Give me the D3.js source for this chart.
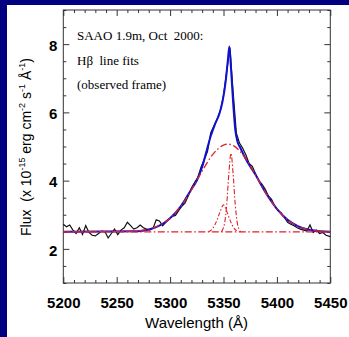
<!DOCTYPE html>
<html>
<head>
<meta charset="utf-8">
<script src="https://cdn.jsdelivr.net/npm/d3@7"></script>
<style>
  html, body { margin: 0; padding: 0; background: #000080; }
  svg { display: block; }
</style>
</head>
<body>
<div id="chart"></div>
<script>
// observed spectrum (wavelength in A, flux in 1e-15 erg/cm2/s/A)
var obsWave = [5200,5203,5206,5209,5212,5215,5218,5221,5224,5227,5230,5233,5236,5239,5242,5245,5248,5251,5254,5257,
  5260,5263,5266,5269,5272,5275,5278,5281,5284,5287,5290,5293,5296,5299,5302,5305,5308,5311,5314,5317,
  5320,5323,5326,5329,5332,5335,5338,5341,5344,5347,5350,5353,5356,5359,5362,5365,5368,5371,5374,5377,
  5380,5383,5386,5389,5392,5395,5398,5401,5404,5407,5410,5413,5416,5419,5422,5425,5428,5431,5434,5437,
  5440,5443,5446,5450];
var obsFlux = [2.72,2.65,2.70,2.55,2.45,2.62,2.42,2.68,2.48,2.40,2.38,2.45,2.52,2.50,2.32,2.45,2.58,2.42,2.55,2.62,
  2.78,2.68,2.58,2.62,2.70,2.62,2.58,2.55,2.60,2.85,2.82,2.68,2.78,2.88,2.95,2.98,3.12,3.25,3.35,3.55,
  3.78,3.95,4.10,4.40,4.62,4.85,5.40,5.60,5.80,6.05,6.50,7.20,7.90,6.60,5.40,5.10,4.95,4.75,4.50,4.42,
  4.20,4.00,3.90,3.75,3.55,3.45,3.25,3.12,3.05,2.92,2.78,2.72,2.68,2.62,2.58,2.55,2.52,2.70,2.48,2.55,
  2.45,2.48,2.40,2.36];

// total fit (blue)
var fitWave = [5200,5270,5280,5290,5300,5310,5320,5325,5330,5334,5338,5342,5346,5349,5352,5354,5355.5,5357,5359,5361,5363,5366,5370,5380,5390,5400,5410,5420,5430,5440,5450];
var fitFlux = [2.50,2.52,2.57,2.68,2.90,3.25,3.75,4.00,4.40,4.85,5.30,5.65,5.95,6.30,6.90,7.50,7.93,7.30,6.30,5.50,5.15,4.95,4.68,4.17,3.62,3.17,2.85,2.66,2.56,2.52,2.50];

// continuum level
var contWave = [5200, 5450];
var contFlux = [2.5, 2.5];

// broad component + continuum
var broadWave = [5200,5260,5270,5280,5290,5300,5310,5320,5330,5340,5350,5354,5360,5370,5380,5390,5400,5410,5420,5430,5440,5450];
var broadFlux = [2.50,2.51,2.53,2.58,2.69,2.90,3.25,3.73,4.28,4.77,5.04,5.07,5.01,4.68,4.17,3.62,3.17,2.85,2.66,2.56,2.52,2.50];

// narrow components + continuum
var narrowAWave = [5348,5351,5353,5355,5357,5359,5361,5363,5366];
var narrowAFlux = [2.50,2.75,3.30,4.20,4.80,4.20,3.30,2.75,2.50];
var narrowBWave = [5336,5340,5344,5347,5350,5353,5356,5360,5364];
var narrowBFlux = [2.50,2.60,2.85,3.10,3.29,3.10,2.85,2.60,2.50];

var xMajor = [5200,5250,5300,5350,5400,5450];
var yMajor = [2,4,6,8];

var notes = ['SAAO 1.9m, Oct  2000:', 'H\u03b2  line fits', '(observed frame)'];

var W = 349, H = 337;
var svg = d3.select('#chart').append('svg')
  .attr('width', W)
  .attr('height', H);

svg.append('rect')
  .attr('x', 7).attr('y', 5)
  .attr('width', W - 7).attr('height', H - 5)
  .style('fill', '#fff');

var x = d3.scaleLinear().domain([5200, 5450]).range([63.3, 330.3]);
var y = d3.scaleLinear().domain([1, 9]).range([283, 10]);

var xMinor = d3.range(5200, 5451, 10).filter(function(v) { return xMajor.indexOf(v) < 0; });
var yMinor = d3.range(1, 9.01, 0.5).filter(function(v) { return yMajor.indexOf(v) < 0; });

function styleAxis(g) {
  g.select('.domain').remove();
  g.selectAll('.tick line').style('stroke', '#333').style('stroke-width', 1);
  g.selectAll('text')
    .style('font-family', 'Liberation Sans, Arial, sans-serif')
    .style('font-weight', 'bold')
    .style('font-size', '15px')
    .style('fill', '#000');
}

// bottom
svg.append('g').attr('transform', 'translate(0,283)')
  .call(d3.axisBottom(x).tickValues(xMajor).tickSize(-6).tickPadding(14).tickFormat(d3.format('d')))
  .call(styleAxis);
svg.append('g').attr('transform', 'translate(0,283)')
  .call(d3.axisBottom(x).tickValues(xMinor).tickSize(-3).tickFormat(''))
  .call(styleAxis);
// top
svg.append('g').attr('transform', 'translate(0,10)')
  .call(d3.axisTop(x).tickValues(xMajor).tickSize(-6).tickFormat(''))
  .call(styleAxis);
svg.append('g').attr('transform', 'translate(0,10)')
  .call(d3.axisTop(x).tickValues(xMinor).tickSize(-3).tickFormat(''))
  .call(styleAxis);
// left
svg.append('g').attr('transform', 'translate(63.3,0)')
  .call(d3.axisLeft(y).tickValues(yMajor).tickSize(-6).tickPadding(6).tickFormat(d3.format('d')))
  .call(styleAxis)
  .selectAll('text').attr('dy', '0.42em');
svg.append('g').attr('transform', 'translate(63.3,0)')
  .call(d3.axisLeft(y).tickValues(yMinor).tickSize(-3).tickFormat(''))
  .call(styleAxis);
// right
svg.append('g').attr('transform', 'translate(330.3,0)')
  .call(d3.axisRight(y).tickValues(yMajor).tickSize(-6).tickFormat(''))
  .call(styleAxis);
svg.append('g').attr('transform', 'translate(330.3,0)')
  .call(d3.axisRight(y).tickValues(yMinor).tickSize(-3).tickFormat(''))
  .call(styleAxis);

svg.append('rect')
  .attr('x', x(5200)).attr('y', y(9))
  .attr('width', x(5450) - x(5200)).attr('height', y(1) - y(9))
  .style('fill', 'none').style('stroke', '#333').style('stroke-width', 1);

function pairs(xs, ys) {
  return xs.map(function(v, i) { return [v, ys[i]]; });
}

var smooth = d3.line()
  .x(function(d) { return x(d[0]); })
  .y(function(d) { return y(d[1]); })
  .curve(d3.curveMonotoneX);
var straight = d3.line()
  .x(function(d) { return x(d[0]); })
  .y(function(d) { return y(d[1]); });

var plot = svg.append('g');

plot.append('path')
  .attr('d', straight(pairs(obsWave, obsFlux)))
  .style('fill', 'none').style('stroke', '#111').style('stroke-width', 1.2);

plot.append('path')
  .attr('d', smooth(pairs(fitWave, fitFlux)))
  .style('fill', 'none').style('stroke', '#1010d0').style('stroke-width', 2);

var RED = '#e0202a', DASH = '7,2.5,1.5,2.5';

plot.append('path')
  .attr('d', straight(pairs(contWave, contFlux)))
  .style('fill', 'none').style('stroke', RED).style('stroke-width', 1.3)
  .style('stroke-dasharray', DASH);
plot.append('path')
  .attr('d', smooth(pairs(broadWave, broadFlux)))
  .style('fill', 'none').style('stroke', RED).style('stroke-width', 1.3)
  .style('stroke-dasharray', DASH).style('stroke-dashoffset', 5);
plot.append('path')
  .attr('d', smooth(pairs(narrowAWave, narrowAFlux)))
  .style('fill', 'none').style('stroke', RED).style('stroke-width', 1.1)
  .style('stroke-dasharray', '5,2,1.5,2');
plot.append('path')
  .attr('d', smooth(pairs(narrowBWave, narrowBFlux)))
  .style('fill', 'none').style('stroke', RED).style('stroke-width', 1.1)
  .style('stroke-dasharray', '4,2,1.5,2');

svg.selectAll('.note')
  .data(notes)
  .enter()
    .append('text')
    .attr('class', 'note')
    .attr('x', 77)
    .attr('y', function(d, idx) { return 40 + idx * 24.5; })
    .style('font-family', 'Liberation Serif, Times New Roman, serif')
    .style('font-size', '13px')
    .style('white-space', 'pre')
    .style('fill', '#000')
    .text(function(d) { return d; });

svg.append('text')
  .attr('x', 196.5).attr('y', 328)
  .attr('text-anchor', 'middle')
  .style('font-family', 'Liberation Sans, Arial, sans-serif')
  .style('font-size', '15px')
  .style('fill', '#000')
  .text('Wavelength (\u00c5)');

var yTitle = svg.append('text')
  .attr('transform', 'translate(30.5,147) rotate(-90)')
  .attr('text-anchor', 'middle')
  .style('font-family', 'Liberation Sans, Arial, sans-serif')
  .style('font-size', '14px')
  .style('fill', '#000');
var parts = [['Flux  (x 10', 0], ['-15', 1], [' erg cm', 0], ['-2', 1], [' s', 0], ['-1', 1], [' \u00c5', 0], ['-1', 1], [')', 0]];
parts.forEach(function(p, i) {
  var prev = i > 0 ? parts[i - 1][1] : 0;
  var t = yTitle.append('tspan')
    .style('white-space', 'pre')
    .text(p[0]);
  if (p[1]) t.attr('dy', '-6').style('font-size', '9px');
  else if (prev) t.attr('dy', '6');
});
</script>
</body>
</html>
